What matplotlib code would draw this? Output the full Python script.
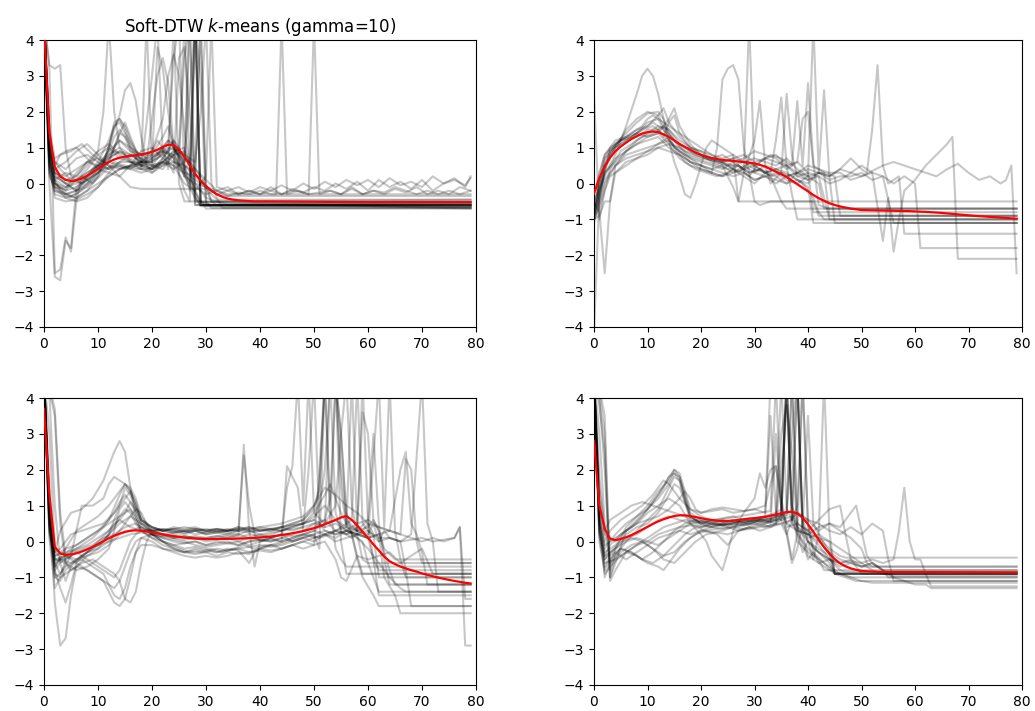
import matplotlib
matplotlib.use("Agg")
import matplotlib.pyplot as plt

# ---------------- barycenters (red) ----------------
bary1_x = list(range(0, 41)) + [50, 60, 70, 79]
bary1_y = [4.4, 1.4, 0.46, 0.2, 0.1, 0.07, 0.09, 0.14, 0.22, 0.31, 0.41, 0.51, 0.6, 0.67, 0.72,
           0.75, 0.77, 0.79, 0.81, 0.84, 0.88, 0.94, 1.02, 1.08, 1.07, 0.95, 0.75, 0.5, 0.27, 0.08,
           -0.07, -0.2, -0.3, -0.37, -0.42, -0.45, -0.47, -0.48, -0.49, -0.5, -0.5, -0.51, -0.52, -0.52, -0.52]

bary2_x = list(range(0, 49)) + [50, 53, 56, 59, 62, 65, 68, 71, 74, 77, 79]
bary2_y = [-0.28, 0.15, 0.48, 0.72, 0.9, 1.03, 1.14, 1.24, 1.32, 1.39, 1.43, 1.45, 1.43, 1.37, 1.3,
           1.2, 1.1, 1.02, 0.94, 0.86, 0.8, 0.75, 0.71, 0.68, 0.66, 0.64, 0.63, 0.61, 0.6, 0.58,
           0.56, 0.52, 0.47, 0.4, 0.33, 0.26, 0.18, 0.08, -0.02, -0.12, -0.22, -0.32, -0.41, -0.48,
           -0.55, -0.6, -0.64, -0.67, -0.7, -0.74, -0.75, -0.76, -0.77, -0.79, -0.82, -0.86, -0.9,
           -0.93, -0.96, -0.98]

bary3_x = list(range(0, 21)) + [22, 24, 26, 28, 30, 33, 36, 39, 42, 44, 46, 48, 50, 52, 54, 55, 56,
                                57, 58, 59, 60, 61, 62, 63, 64, 65, 66, 67, 68, 69, 70, 72, 74, 76, 78, 79]
bary3_y = [3.7, 1.3, -0.15, -0.33, -0.37, -0.36, -0.33, -0.28, -0.22, -0.15, -0.07, 0.01, 0.09, 0.16,
           0.22, 0.27, 0.3, 0.31, 0.3, 0.28, 0.25, 0.2, 0.15, 0.11, 0.08, 0.07, 0.07, 0.08, 0.1, 0.14,
           0.18, 0.23, 0.29, 0.37, 0.48, 0.6, 0.67, 0.71, 0.6, 0.45, 0.27, 0.1, -0.08, -0.25, -0.42,
           -0.55, -0.63, -0.7, -0.75, -0.8, -0.84, -0.89, -0.97, -1.04, -1.1, -1.15, -1.17]

bary4_x = list(range(0, 51)) + [52, 55, 79]
bary4_y = [2.8, 1.0, 0.35, 0.08, 0.04, 0.07, 0.12, 0.18, 0.25, 0.33, 0.41, 0.49, 0.56, 0.62, 0.67,
           0.71, 0.73, 0.73, 0.71, 0.68, 0.65, 0.62, 0.6, 0.58, 0.57, 0.57, 0.58, 0.6, 0.62, 0.64,
           0.65, 0.67, 0.69, 0.72, 0.75, 0.79, 0.82, 0.83, 0.78, 0.66, 0.48, 0.27, 0.05, -0.16, -0.34,
           -0.49, -0.61, -0.69, -0.75, -0.79, -0.82, -0.84, -0.85, -0.86]

# ---------------- cluster members (grey), vertices ----------------
cluster1 = [
    [(0,4.6),(1,1.5),(2,0.1),(3,-0.2),(5,-0.35),(7,-0.2),(9,0.1),(11,0.5),(12,1.0),(13,1.6),(14,1.8),(15,1.5),(16,1.0),(18,0.5),(20,0.6),(22,1.0),(23,1.2),(24,1.1),(25,0.7),(26,0.2),(27,4.5),(28,-0.6),(79,-0.6)],
    [(0,4.6),(1,0.8),(2,-0.1),(4,-0.3),(6,-0.4),(8,-0.2),(10,0.2),(12,0.6),(14,1.4),(15,1.7),(16,1.3),(18,0.6),(20,0.4),(22,0.7),(24,1.2),(25,1.0),(26,0.5),(28,0.3),(29,4.5),(30,-0.5),(31,-0.68),(79,-0.68)],
    [(0,4.6),(1,1.0),(2,0.5),(3,0.8),(5,0.9),(7,1.1),(9,0.8),(11,0.6),(13,1.5),(14,1.9),(15,2.6),(16,2.8),(17,2.3),(18,1.3),(19,0.5),(20,0.3),(22,0.6),(24,0.4),(26,0.6),(28,4.5),(29,-0.5),(30,-0.62),(79,-0.62)],
    [(0,4.6),(1,3.2),(2,-2.5),(3,-2.4),(4,-1.5),(5,-1.9),(6,-0.5),(7,0.2),(9,0.0),(11,0.3),(13,0.6),(15,0.5),(17,0.4),(19,0.4),(21,0.5),(23,0.6),(24,0.3),(25,3.5),(26,3.8),(27,2.0),(28,-0.3),(29,-0.6),(79,-0.65)],
    [(0,4.6),(1,0.0),(2,-2.6),(3,-2.7),(4,-1.6),(5,-1.8),(6,-0.1),(8,0.2),(10,0.5),(12,0.9),(14,1.2),(16,0.9),(18,0.8),(20,0.8),(22,1.3),(23,1.6),(24,1.0),(26,0.4),(27,-0.2),(28,5.0),(29,-0.6),(79,-0.55)],
    [(0,4.6),(1,3.3),(2,3.2),(3,3.3),(4,1.0),(5,0.2),(7,0.0),(9,0.2),(11,0.4),(13,0.5),(15,0.4),(17,0.5),(19,0.6),(21,3.0),(22,3.5),(23,2.8),(24,1.0),(26,0.5),(27,0.0),(29,-0.5),(31,-0.6),(79,-0.6)],
    [(0,4.6),(1,0.5),(2,0.1),(4,0.3),(6,0.2),(8,0.6),(10,0.9),(12,1.1),(14,0.8),(16,0.6),(18,0.6),(20,0.8),(22,0.9),(24,0.7),(26,0.2),(28,0.0),(30,-0.1),(32,-0.2),(34,-0.1),(36,-0.3),(38,-0.2),(40,-0.3),(42,-0.1),(44,-0.3),(46,-0.15),(48,-0.25),(50,-0.1),(52,-0.2),(54,0.0),(56,-0.15),(58,0.05),(60,-0.2),(62,0.1),(64,-0.1),(66,0.05),(68,-0.15),(70,0.1),(72,-0.2),(74,0.0),(76,0.15),(78,-0.1),(79,0.2)],
    [(0,4.6),(1,1.2),(2,0.6),(4,0.4),(6,0.7),(8,0.8),(10,0.6),(12,0.4),(14,0.5),(16,0.4),(18,0.6),(19,4.5),(20,0.5),(22,0.4),(24,0.8),(26,0.3),(28,-0.1),(30,-0.3),(32,-0.2),(34,-0.35),(36,-0.25),(38,-0.3),(40,-0.2),(42,-0.3),(43,-0.3),(44,4.5),(45,-0.3),(47,-0.2),(49,-0.3),(51,-0.25),(53,-0.2),(55,-0.3),(57,-0.15),(59,-0.3),(61,-0.2),(63,-0.3),(65,-0.15),(67,-0.25),(69,-0.1),(71,-0.3),(73,-0.2),(75,-0.3),(77,-0.1),(79,-0.2)],
    [(0,4.6),(1,0.9),(2,0.0),(4,-0.2),(6,0.1),(8,0.4),(10,0.8),(12,1.0),(14,0.7),(16,0.6),(18,0.4),(20,3.0),(21,4.5),(22,0.8),(24,0.6),(26,0.5),(28,0.2),(30,-0.1),(32,-0.3),(34,-0.2),(36,-0.3),(38,-0.2),(40,-0.3),(42,-0.2),(44,-0.3),(46,-0.2),(48,-0.25),(49,-0.3),(50,4.5),(51,-0.3),(53,-0.2),(55,-0.3),(57,-0.1),(59,-0.3),(61,-0.2),(63,-0.25),(65,-0.1),(67,-0.2),(69,-0.3),(71,-0.2),(73,-0.3),(75,-0.2),(77,-0.3),(79,-0.2)],
    [(0,4.6),(1,1.0),(2,0.2),(4,0.0),(6,-0.2),(8,0.0),(10,0.3),(12,0.7),(14,0.9),(16,0.7),(18,0.5),(20,0.5),(22,0.6),(24,0.9),(26,1.0),(27,0.5),(28,0.0),(30,-0.4),(32,-0.5),(34,-0.58),(79,-0.58)],
    [(0,4.6),(1,0.6),(2,-0.4),(4,-0.5),(6,-0.45),(8,-0.3),(10,-0.1),(12,0.2),(14,0.4),(16,0.5),(18,0.4),(20,0.3),(22,0.5),(24,0.8),(25,1.0),(26,3.5),(27,4.5),(28,-0.5),(79,-0.7)],
    [(0,4.6),(1,1.3),(2,0.3),(4,0.0),(6,-0.2),(8,-0.1),(10,0.2),(12,1.0),(13,1.7),(14,1.8),(15,1.6),(16,1.2),(18,0.6),(20,0.5),(22,0.9),(23,1.1),(24,3.5),(25,4.5),(26,0.2),(28,-0.4),(29,-0.63),(79,-0.63)],
    [(0,4.6),(1,0.9),(2,0.4),(4,0.6),(6,0.9),(8,1.1),(10,0.8),(12,0.5),(14,0.4),(16,0.5),(18,0.6),(20,0.6),(21,3.8),(22,3.2),(23,2.0),(24,1.0),(25,0.5),(27,0.0),(28,4.5),(29,-0.6),(79,-0.55)],
    [(0,4.6),(1,0.7),(2,0.1),(4,-0.1),(6,0.1),(8,0.3),(10,0.5),(12,0.6),(14,0.5),(16,0.4),(18,0.3),(20,0.4),(22,0.6),(24,0.5),(26,0.3),(28,0.2),(29,4.5),(30,0.0),(31,-0.5),(79,-0.45)],
    [(0,4.6),(1,1.1),(2,0.3),(4,0.1),(6,0.2),(8,0.5),(10,0.9),(11,2.0),(12,4.5),(13,2.0),(14,1.0),(16,0.6),(18,0.5),(20,0.4),(22,0.5),(24,0.6),(26,0.4),(27,0.2),(30,-0.1),(32,-0.3),(34,-0.35),(79,-0.35)],
    [(0,4.6),(1,0.4),(2,-0.3),(4,-0.4),(6,-0.3),(8,0.0),(10,0.4),(12,0.8),(14,1.2),(16,1.0),(18,0.8),(20,0.9),(22,1.8),(23,3.0),(24,3.6),(25,3.0),(26,1.5),(27,0.5),(28,-0.6),(79,-0.66)],
    [(0,4.6),(1,0.8),(2,0.0),(4,-0.3),(6,-0.2),(8,0.2),(10,0.6),(12,1.2),(13,1.6),(14,1.7),(15,1.4),(17,0.9),(19,0.7),(21,0.8),(23,1.2),(24,1.0),(26,0.6),(27,5.0),(28,5.0),(29,-0.6),(79,-0.6)],
    [(0,4.6),(1,1.2),(2,0.6),(3,0.4),(5,0.1),(7,0.0),(9,0.3),(11,0.6),(13,0.9),(15,0.8),(17,0.5),(19,0.4),(21,0.5),(23,0.9),(24,1.2),(25,0.9),(26,0.4),(27,0.6),(28,4.5),(29,3.0),(30,-0.6),(79,-0.6)],
    [(0,4.6),(1,0.5),(2,-0.1),(4,-0.4),(6,-0.5),(8,-0.4),(10,-0.1),(12,0.3),(14,0.6),(16,0.6),(18,0.5),(20,0.7),(22,1.0),(24,0.7),(25,0.3),(26,-0.2),(27,-0.5),(28,4.5),(29,-0.52),(79,-0.52)],
    [(0,4.6),(1,0.2),(2,-0.1),(4,-0.15),(6,0.3),(8,0.6),(10,0.7),(12,0.5),(14,0.2),(16,-0.1),(18,-0.15),(30,-0.15),(31,-0.5),(32,-0.6),(79,-0.6)],
    [(0,4.6),(1,1.5),(2,0.7),(4,0.9),(6,1.0),(8,0.7),(10,0.4),(12,0.3),(14,0.2),(16,0.5),(18,0.9),(20,1.0),(22,0.7),(24,0.5),(26,0.0),(28,-0.2),(30,0.2),(31,4.5),(32,-0.1),(34,-0.2),(36,-0.1),(38,-0.25),(40,-0.1),(42,-0.2),(44,-0.05),(46,-0.2),(48,0.0),(50,-0.15),(52,0.05),(54,-0.1),(56,0.1),(58,-0.05),(60,0.1),(62,-0.1),(64,0.15),(66,-0.05),(68,0.05),(70,-0.1),(72,0.2),(74,0.0),(76,0.1),(78,-0.05),(79,0.15)],
    [(0,4.6),(1,1.0),(2,0.3),(4,0.2),(6,0.4),(8,0.6),(10,0.5),(12,0.4),(14,0.6),(16,0.8),(18,0.7),(20,0.5),(22,0.6),(24,0.9),(26,0.7),(28,0.4),(30,0.1),(32,-0.2),(34,-0.3),(79,-0.3)],
    [(0,4.6),(1,0.6),(2,0.0),(4,-0.2),(6,-0.1),(8,0.1),(10,0.3),(12,0.6),(13,1.0),(14,1.4),(15,1.3),(16,0.9),(18,0.5),(20,0.4),(22,0.6),(24,0.8),(26,0.9),(27,0.5),(28,-0.4),(29,-0.6),(79,-0.6)],
    [(0,4.6),(1,0.3),(2,-0.2),(4,-0.35),(6,-0.4),(8,-0.2),(10,0.0),(12,0.2),(14,0.4),(16,0.5),(18,0.6),(20,0.9),(21,1.2),(22,1.0),(23,0.4),(24,4.5),(25,0.0),(26,-0.5),(79,-0.5)],
    [(0,4.6),(1,0.9),(2,0.2),(4,0.0),(6,0.1),(8,0.3),(10,0.5),(12,0.8),(14,1.0),(16,0.8),(18,0.6),(20,0.7),(22,0.9),(24,0.8),(25,0.5),(26,4.5),(27,0.3),(28,-0.2),(29,-0.5),(30,-0.7),(79,-0.7)],
    [(0,4.6),(1,0.4),(2,-0.2),(4,-0.3),(6,-0.2),(8,0.1),(10,0.4),(12,0.7),(14,0.9),(16,0.8),(18,0.6),(20,0.6),(22,0.8),(24,1.0),(26,0.8),(28,0.6),(29,2.0),(30,4.5),(31,0.0),(32,-0.4),(33,-0.68),(79,-0.68)],
    [(0,4.6),(1,0.7),(2,0.0),(4,-0.1),(6,0.0),(8,0.2),(10,0.5),(12,0.9),(13,1.3),(14,1.5),(15,1.3),(17,0.8),(19,0.6),(21,0.7),(23,1.0),(25,0.9),(27,0.6),(28,0.4),(29,0.2),(30,-0.1),(31,-0.3),(32,-0.45),(79,-0.45)],
]

cluster2 = [
    [(0,-1.0),(1,0.0),(2,0.6),(3,1.0),(5,1.2),(7,1.4),(9,1.6),(10,1.8),(11,1.9),(12,1.8),(13,1.5),(15,1.0),(17,0.8),(19,0.7),(21,0.6),(23,0.5),(25,0.4),(27,0.5),(29,0.3),(31,0.4),(33,0.2),(35,-0.5),(36,-0.7),(79,-0.7)],
    [(0,-0.8),(1,-0.3),(2,0.4),(3,0.9),(5,1.2),(7,1.3),(9,1.5),(11,1.6),(12,1.5),(13,1.3),(14,1.7),(15,1.9),(16,1.4),(18,1.0),(20,0.9),(22,0.7),(24,0.6),(26,0.7),(28,0.8),(30,0.6),(32,0.7),(34,0.8),(36,0.5),(38,0.2),(40,0.1),(42,0.3),(43,0.3),(44,-0.9),(79,-0.9)],
    [(0,-0.5),(2,0.2),(4,0.8),(6,1.6),(8,2.5),(9,3.0),(10,3.2),(11,3.0),(12,2.5),(13,1.8),(14,1.2),(15,0.6),(16,0.2),(17,-0.3),(18,-0.4),(19,0.0),(20,0.5),(21,1.0),(22,1.2),(24,1.0),(26,0.8),(27,-0.5),(41,-0.5),(42,-0.9),(79,-0.9)],
    [(0,-0.9),(1,-0.4),(2,0.3),(4,0.7),(6,0.9),(8,1.1),(10,1.3),(12,1.4),(14,1.1),(16,0.7),(18,0.5),(20,0.4),(22,0.3),(23,1.0),(24,2.9),(25,3.2),(26,3.3),(27,2.9),(28,1.0),(29,0.3),(30,-0.5),(31,-0.6),(33,-0.5),(79,-0.5)],
    [(0,-0.7),(1,0.0),(2,0.5),(4,1.0),(6,1.2),(8,1.3),(10,1.5),(12,1.5),(14,1.2),(16,0.9),(18,0.7),(20,0.6),(22,0.5),(24,0.4),(26,0.6),(28,0.4),(30,0.5),(32,0.3),(34,0.4),(36,0.2),(38,0.3),(40,0.1),(42,0.2),(44,0.0),(46,0.1),(48,0.3),(50,0.5),(52,0.3),(54,-1.6),(55,-0.4),(56,-1.9),(57,-1.0),(58,-0.2),(60,0.1),(62,0.5),(64,0.8),(66,1.1),(67,1.3),(68,-2.1),(79,-2.1)],
    [(0,-0.9),(1,-0.2),(2,0.3),(4,0.6),(6,0.9),(8,1.1),(10,1.2),(12,1.3),(14,1.0),(16,0.8),(18,0.6),(20,0.5),(22,0.4),(24,0.5),(26,0.3),(28,0.4),(29,4.5),(30,0.3),(32,0.5),(34,0.4),(36,0.3),(38,0.1),(40,0.0),(42,0.3),(44,0.2),(46,0.4),(48,0.3),(50,0.2),(52,0.35),(54,0.5),(56,0.6),(58,0.5),(60,0.4),(62,0.3),(64,0.2),(66,0.4),(68,0.55),(70,0.3),(72,0.1),(74,0.2),(76,0.0),(77,0.1),(78,0.5),(79,-2.5)],
    [(0,-1.0),(1,-0.6),(2,0.0),(4,0.5),(6,0.8),(8,0.9),(10,1.0),(12,1.1),(14,1.2),(16,0.9),(18,0.6),(20,0.5),(22,0.3),(24,0.2),(26,0.4),(28,0.3),(30,0.1),(32,0.2),(34,0.0),(36,0.2),(38,0.3),(40,0.4),(42,0.3),(44,0.2),(46,0.4),(48,0.7),(50,0.4),(51,0.3),(52,1.5),(53,3.3),(54,0.5),(55,0.0),(57,0.2),(58,-1.4),(79,-1.4)],
    [(0,-1.1),(1,-0.4),(2,0.4),(4,1.0),(6,1.5),(8,1.8),(10,2.0),(12,1.9),(13,1.6),(15,1.2),(17,1.0),(19,0.8),(21,0.7),(23,0.6),(25,0.5),(27,0.3),(29,0.6),(31,0.4),(33,0.2),(35,0.3),(37,0.2),(39,0.0),(41,-0.4),(42,-0.8),(43,-1.0),(79,-1.0)],
    [(0,-0.8),(1,-0.2),(2,0.5),(4,1.1),(6,1.4),(8,1.7),(10,1.95),(12,2.0),(13,1.8),(14,1.4),(16,1.0),(18,0.8),(20,0.7),(22,0.65),(24,0.6),(26,0.7),(28,0.6),(30,0.5),(32,0.7),(34,0.6),(36,0.5),(38,0.6),(40,0.3),(41,-0.8),(79,-0.8)],
    [(0,-0.3),(1,0.3),(2,0.8),(4,1.1),(6,1.3),(8,1.4),(10,1.3),(12,1.4),(14,1.8),(15,2.1),(16,1.6),(18,1.1),(20,0.8),(22,0.6),(24,0.5),(26,-0.1),(27,-0.5),(28,0.3),(30,1.2),(31,2.3),(32,0.5),(33,0.0),(35,0.3),(36,2.5),(37,0.8),(38,0.2),(40,0.3),(42,0.2),(44,-1.0),(79,-1.0)],
    [(0,-1.0),(1,-0.7),(2,-0.2),(3,0.2),(5,0.4),(7,0.6),(9,0.8),(11,1.0),(13,1.2),(14,1.3),(15,1.0),(17,0.6),(19,0.4),(21,0.3),(23,0.2),(25,0.3),(27,0.5),(29,0.2),(31,0.6),(33,0.8),(35,0.7),(37,0.5),(38,2.3),(39,0.5),(40,2.8),(41,0.6),(42,-0.6),(44,-0.7),(79,-0.7)],
    [(0,-0.5),(1,-0.8),(2,-2.5),(3,-0.5),(4,0.5),(6,0.9),(8,1.2),(10,1.4),(12,1.6),(14,1.5),(16,1.2),(18,1.0),(20,0.9),(22,0.8),(24,0.6),(26,0.5),(28,0.6),(30,0.4),(32,0.3),(34,0.4),(36,0.5),(38,0.3),(40,0.2),(41,4.5),(42,0.3),(43,2.6),(44,0.2),(45,-1.1),(79,-1.1)],
    [(0,-4.2),(1,-0.3),(2,0.3),(3,0.9),(5,1.2),(7,1.3),(9,1.5),(11,1.7),(13,1.5),(15,1.2),(17,0.9),(19,0.8),(21,0.7),(23,0.6),(25,0.5),(27,0.5),(29,0.3),(31,0.4),(33,0.3),(34,1.2),(35,2.4),(36,0.5),(37,-0.3),(38,-1.0),(79,-1.0)],
    [(0,2.5),(1,-1.0),(2,-0.2),(3,0.4),(5,0.9),(7,1.1),(9,1.3),(11,1.4),(13,1.6),(14,1.5),(16,1.1),(18,0.9),(20,0.8),(22,0.7),(24,0.8),(26,0.6),(28,0.7),(30,0.9),(32,0.8),(34,0.7),(36,0.4),(38,0.6),(39,1.8),(40,2.0),(41,0.5),(43,0.3),(45,0.2),(46,-0.9),(79,-0.9)],
    [(0,-0.9),(1,-0.5),(2,0.1),(4,0.5),(6,0.7),(8,0.8),(10,0.9),(12,1.0),(14,0.9),(16,0.8),(18,0.6),(20,0.4),(22,0.3),(24,0.2),(26,0.3),(28,0.5),(30,0.3),(32,0.2),(34,0.3),(36,0.1),(38,0.0),(40,0.2),(42,0.3),(44,0.1),(46,0.2),(48,0.2),(50,0.3),(52,0.1),(54,0.2),(56,-1.1),(79,-1.1)],
    [(0,-0.7),(1,0.2),(2,0.8),(4,1.2),(6,1.3),(8,1.5),(10,1.6),(12,1.9),(13,2.1),(14,1.7),(16,1.3),(18,1.0),(20,0.8),(22,0.7),(24,0.6),(26,0.4),(28,0.2),(30,0.0),(32,0.3),(34,0.2),(36,0.0),(38,0.3),(40,0.5),(42,0.4),(44,0.3),(46,0.3),(48,0.1),(50,0.2),(52,0.3),(54,0.2),(56,0.0),(58,0.2),(60,0.0),(61,-1.8),(79,-1.8)],
    [(0,-1.0),(1,-0.9),(2,-0.5),(3,-0.5),(4,0.3),(6,0.6),(8,0.7),(10,0.8),(12,1.0),(14,1.1),(16,1.0),(18,0.7),(20,0.5),(22,0.4),(24,0.3),(26,0.2),(28,0.3),(30,0.1),(32,0.2),(34,0.1),(36,0.0),(38,0.1),(40,-0.1),(41,-1.1),(79,-1.1)],
    [(0,-0.8),(1,0.0),(2,0.7),(4,1.0),(6,1.2),(8,1.4),(10,1.7),(12,1.8),(14,1.6),(16,1.4),(18,1.2),(20,1.0),(22,0.8),(24,0.7),(26,0.8),(28,0.6),(30,0.7),(32,0.6),(34,0.5),(36,0.7),(38,0.4),(40,0.2),(42,0.0),(43,-0.7),(79,-0.7)],
]

cluster3 = [
    [(0,4.6),(1,0.5),(2,-0.7),(3,-0.5),(5,-0.3),(7,-0.1),(9,0.1),(11,0.4),(13,0.8),(14,1.0),(15,1.2),(16,1.4),(17,1.1),(18,0.6),(20,0.4),(22,0.3),(24,0.35),(26,0.3),(28,0.3),(30,0.35),(32,0.3),(34,0.3),(36,0.35),(38,0.3),(40,0.3),(42,0.35),(44,0.3),(46,0.4),(48,0.5),(50,0.8),(52,1.3),(53,1.6),(54,1.2),(55,0.8),(56,0.5),(58,0.3),(60,0.4),(61,0.6),(62,0.3),(63,-0.3),(64,-0.8),(65,-1.2),(79,-1.2)],
    [(0,4.6),(1,4.2),(2,3.5),(3,0.5),(4,-0.6),(5,-0.8),(7,-0.6),(9,-0.5),(11,-0.7),(13,-0.9),(14,-1.1),(15,-1.6),(16,-1.7),(17,-1.4),(18,-0.6),(19,0.0),(20,0.3),(22,0.35),(24,0.3),(26,0.25),(28,0.3),(30,0.2),(32,0.25),(34,0.3),(36,0.3),(38,0.4),(40,0.3),(42,0.35),(44,0.4),(46,0.45),(48,0.5),(50,0.6),(51,1.0),(52,2.0),(53,4.5),(54,4.5),(55,2.0),(56,0.5),(57,0.2),(59,0.0),(60,-0.6),(61,-1.0),(62,-1.4),(79,-1.4)],
    [(0,4.6),(1,1.5),(2,-1.0),(3,-1.1),(4,-0.8),(6,-0.5),(8,-0.4),(10,-0.2),(12,0.2),(13,0.6),(14,1.0),(15,1.5),(16,1.3),(17,0.9),(18,0.5),(20,0.2),(22,0.15),(24,0.2),(26,0.1),(28,0.15),(30,0.1),(32,0.15),(34,0.2),(36,0.15),(37,2.7),(38,0.3),(39,-0.7),(40,0.0),(42,0.1),(44,0.2),(46,0.0),(48,0.1),(50,0.2),(51,-0.2),(52,4.5),(53,0.5),(54,4.5),(55,0.0),(56,-0.9),(79,-0.9)],
    [(0,4.6),(1,0.6),(2,-0.8),(3,-1.3),(4,-1.7),(5,-1.2),(6,-0.6),(8,-0.3),(10,0.0),(12,0.3),(13,0.5),(14,0.6),(16,0.4),(18,0.3),(20,0.1),(22,0.0),(24,-0.1),(26,-0.05),(28,0.0),(30,-0.1),(32,0.0),(34,-0.05),(36,0.0),(38,-0.1),(40,0.0),(42,0.05),(44,0.0),(46,0.1),(48,0.2),(50,0.3),(52,0.5),(54,1.0),(55,3.0),(56,4.5),(57,1.0),(58,0.2),(59,-0.5),(60,-0.6),(79,-0.6)],
    [(0,4.6),(1,1.0),(2,-1.7),(3,-2.9),(4,-2.7),(5,-1.5),(6,-0.7),(8,-0.4),(10,-0.3),(12,-0.1),(14,0.2),(16,0.3),(18,0.4),(20,0.3),(22,0.2),(24,0.25),(26,0.2),(28,0.3),(30,0.2),(32,0.25),(34,0.2),(36,0.3),(37,2.4),(38,1.0),(39,0.2),(40,0.0),(42,0.1),(44,0.2),(46,0.15),(48,0.2),(50,0.3),(52,0.2),(54,0.3),(56,0.2),(58,0.3),(59,4.5),(60,0.5),(61,-0.5),(62,-0.8),(79,-0.8)],
    [(0,4.6),(1,0.8),(2,-0.3),(3,0.3),(5,0.8),(7,0.9),(9,1.2),(11,1.7),(13,2.5),(14,2.8),(15,2.5),(16,1.5),(17,0.7),(18,0.3),(20,0.1),(22,-0.1),(24,-0.2),(26,-0.3),(28,-0.25),(30,-0.3),(32,-0.2),(34,-0.25),(36,-0.2),(38,-0.3),(40,-0.2),(42,-0.1),(44,-0.2),(46,-0.1),(48,0.0),(50,-0.1),(51,2.0),(52,4.5),(53,1.0),(54,-0.2),(55,-0.5),(56,-0.7),(79,-0.7)],
    [(0,4.6),(1,4.3),(2,3.7),(3,0.8),(4,-0.4),(5,-0.5),(7,-0.7),(9,-0.9),(11,-1.1),(12,-1.4),(13,-1.7),(14,-1.8),(15,-1.6),(16,-1.0),(17,-0.3),(18,0.1),(20,0.2),(22,0.0),(24,-0.2),(26,-0.3),(28,-0.35),(30,-0.3),(32,-0.4),(34,-0.3),(36,-0.35),(38,-0.3),(40,-0.25),(42,-0.3),(44,-0.2),(46,-0.1),(48,0.0),(50,0.1),(52,0.2),(54,0.3),(56,0.4),(57,4.5),(58,0.3),(60,0.1),(61,-0.5),(62,-1.5),(79,-1.5)],
    [(0,4.6),(1,0.3),(2,-0.4),(4,-0.2),(6,-0.1),(8,0.1),(10,0.3),(12,0.6),(14,1.3),(15,1.6),(16,1.5),(17,1.2),(18,0.7),(20,0.3),(22,0.2),(24,0.1),(26,0.15),(28,0.1),(30,0.05),(32,0.1),(34,0.15),(36,0.1),(38,0.2),(40,0.15),(42,0.2),(44,0.3),(46,0.35),(48,0.4),(50,0.5),(52,0.4),(53,4.5),(54,0.8),(55,0.3),(57,0.1),(59,0.3),(60,0.5),(61,0.2),(62,-1.0),(79,-1.0)],
    [(0,4.6),(1,0.4),(2,-0.6),(3,-0.9),(4,-0.7),(6,-0.5),(8,-0.3),(10,-0.2),(12,0.0),(14,0.3),(16,0.7),(17,0.9),(18,0.8),(19,0.5),(20,0.2),(22,0.0),(24,-0.1),(26,-0.2),(28,-0.15),(30,-0.2),(32,-0.3),(34,-0.2),(36,-0.25),(38,-0.6),(39,-0.3),(40,-0.2),(42,-0.1),(44,0.0),(46,0.1),(48,0.2),(50,0.1),(52,0.2),(54,0.0),(56,0.1),(58,0.2),(60,0.3),(62,0.1),(64,0.1),(66,0.0),(68,0.05),(70,0.1),(72,0.0),(74,0.05),(76,0.1),(77,0.4),(78,-1.6),(79,-1.6)],
    [(0,4.6),(1,0.9),(2,-0.5),(4,-0.6),(6,-0.8),(8,-0.7),(10,-0.5),(12,-0.2),(13,0.3),(14,0.9),(15,1.1),(16,0.9),(17,0.6),(18,0.3),(20,0.3),(22,0.35),(24,0.3),(26,0.25),(28,0.3),(30,0.25),(32,0.3),(34,0.35),(36,0.3),(38,0.35),(40,0.4),(42,0.35),(44,0.4),(46,0.5),(48,0.6),(50,0.9),(51,1.5),(52,4.5),(53,4.5),(54,4.5),(55,3.0),(56,0.6),(58,0.3),(60,0.6),(61,3.0),(62,0.5),(63,-0.5),(64,-1.2),(79,-1.2)],
    [(0,4.6),(1,0.2),(2,-1.0),(3,-0.9),(5,-0.4),(7,1.0),(9,1.0),(11,1.2),(12,1.6),(13,1.8),(14,1.7),(15,1.6),(16,1.4),(17,1.0),(18,0.6),(20,0.4),(22,0.3),(24,0.4),(26,0.35),(28,0.4),(30,0.3),(32,0.35),(34,0.3),(36,0.4),(38,0.3),(40,0.35),(42,0.3),(44,0.4),(46,0.3),(48,0.4),(49,2.0),(50,4.5),(51,0.5),(52,0.3),(54,0.2),(56,0.3),(58,0.2),(60,0.1),(62,0.2),(64,0.3),(66,0.2),(67,2.3),(68,2.0),(69,0.0),(70,-0.6),(79,-0.6)],
    [(0,4.6),(1,3.0),(2,-0.2),(3,-0.5),(5,-0.6),(7,-0.5),(9,-0.7),(11,-0.9),(12,-1.2),(13,-1.3),(14,-1.1),(15,-0.7),(16,-0.3),(17,0.0),(18,0.1),(20,0.0),(22,-0.2),(24,-0.3),(26,-0.4),(28,-0.45),(30,-0.4),(32,-0.45),(34,-0.4),(36,-0.3),(38,-0.35),(40,-0.2),(42,-0.25),(44,-0.2),(46,-0.1),(48,-0.2),(50,-0.1),(52,0.0),(54,-0.5),(55,-1.0),(56,-1.1),(58,-0.4),(60,-0.5),(62,-0.4),(64,-0.3),(66,-0.6),(68,-0.4),(70,-0.2),(72,-0.9),(79,-0.9)],
    [(0,4.6),(1,0.7),(2,-0.4),(4,-0.3),(6,-0.2),(8,-0.1),(10,0.1),(12,0.3),(14,0.6),(15,0.8),(16,0.9),(17,0.7),(18,0.4),(20,0.2),(22,0.15),(24,0.1),(26,0.05),(28,0.1),(30,0.0),(32,0.05),(34,0.1),(36,0.0),(38,0.1),(40,0.05),(42,0.1),(44,0.0),(45,2.1),(46,1.8),(47,1.5),(48,0.3),(50,0.5),(52,0.6),(54,0.3),(56,0.2),(58,0.4),(59,3.6),(60,3.0),(61,0.6),(62,0.3),(63,-0.2),(65,-0.5),(66,-0.5),(79,-0.5)],
    [(0,4.6),(1,0.5),(2,-0.8),(3,-0.6),(5,-0.3),(7,-0.2),(9,-0.1),(11,0.1),(13,0.2),(15,0.4),(17,0.5),(19,0.3),(21,0.1),(23,-0.1),(25,-0.2),(27,-0.3),(29,-0.3),(31,-0.2),(33,-0.3),(35,-0.2),(37,-0.1),(39,-0.2),(41,-0.1),(43,-0.1),(45,0.0),(47,0.1),(49,0.2),(51,0.1),(53,0.2),(55,0.4),(57,0.6),(58,4.5),(59,0.5),(60,0.3),(62,0.0),(63,0.3),(64,0.1),(66,0.0),(67,-0.8),(68,-1.8),(79,-1.8)],
    [(0,4.6),(1,0.1),(2,-1.3),(3,-1.0),(4,-0.5),(6,-0.3),(8,-0.5),(10,-0.7),(12,-0.9),(13,-1.0),(14,-0.8),(15,-0.4),(16,0.0),(17,0.2),(18,0.3),(20,0.35),(22,0.3),(24,0.25),(26,0.3),(28,0.2),(30,0.25),(32,0.3),(34,0.25),(36,0.2),(38,0.3),(40,0.2),(42,0.25),(44,0.3),(46,0.4),(48,0.5),(50,0.7),(52,1.0),(54,0.6),(56,0.4),(58,0.3),(60,0.2),(61,0.5),(62,0.0),(64,0.1),(66,0.0),(68,0.2),(70,4.5),(71,0.5),(72,0.0),(73,-1.4),(79,-1.4)],
    [(0,4.6),(1,4.1),(2,1.0),(3,-0.6),(4,-1.1),(5,-0.7),(7,-0.4),(9,-0.2),(11,0.0),(13,0.4),(14,0.7),(15,0.9),(16,0.8),(17,0.5),(18,0.3),(20,0.3),(22,0.3),(24,0.25),(26,0.3),(28,0.35),(30,0.3),(32,0.25),(34,0.3),(36,0.3),(38,0.25),(40,0.3),(42,0.3),(44,0.4),(46,0.5),(48,0.6),(50,1.0),(51,1.4),(52,4.5),(53,4.5),(54,4.5),(55,3.0),(56,0.8),(57,0.2),(58,-0.4),(59,-0.9),(79,-0.9)],
    [(0,4.6),(1,0.6),(2,-0.9),(3,-1.0),(4,-0.9),(6,-0.7),(8,-0.8),(10,-1.0),(12,-1.2),(13,-1.5),(14,-1.6),(15,-1.3),(16,-0.7),(17,-0.3),(18,-0.1),(20,-0.1),(22,-0.2),(24,-0.25),(26,-0.3),(28,-0.2),(30,-0.25),(32,-0.3),(34,-0.25),(36,-0.2),(38,-0.15),(40,-0.1),(42,-0.15),(44,-0.1),(46,0.0),(48,0.1),(50,0.2),(52,0.3),(54,0.2),(56,0.3),(58,0.2),(60,0.1),(62,0.2),(63,-1.0),(65,-1.5),(66,-2.0),(79,-2.0)],
    [(0,4.6),(1,0.6),(2,-0.3),(3,-0.2),(5,0.2),(7,0.3),(9,0.4),(11,0.5),(13,0.8),(14,1.1),(15,1.3),(16,1.1),(17,0.8),(18,0.5),(20,0.4),(22,0.3),(24,0.35),(26,0.3),(28,0.35),(30,0.3),(32,0.35),(34,0.3),(36,0.35),(38,0.4),(40,0.3),(42,0.35),(44,0.3),(46,0.45),(48,0.5),(50,0.6),(52,0.4),(54,0.5),(56,0.3),(58,0.5),(60,0.6),(62,0.4),(64,0.3),(66,0.2),(68,0.1),(70,0.0),(72,0.1),(74,0.0),(76,0.1),(77,0.4),(78,-2.9),(79,-2.9)],
    [(0,4.6),(1,1.2),(2,-0.5),(4,-0.5),(6,-0.3),(8,-0.2),(10,-0.1),(12,0.0),(14,0.1),(16,0.2),(18,0.25),(20,0.2),(22,0.1),(24,0.05),(26,0.0),(28,-0.1),(30,-0.15),(32,-0.1),(34,-0.05),(36,-0.1),(38,0.0),(40,0.05),(42,0.0),(44,0.1),(46,0.2),(48,0.3),(50,0.4),(52,0.6),(53,1.2),(54,4.5),(55,1.5),(56,0.4),(58,0.1),(60,-0.2),(62,-0.6),(64,-1.0),(66,-1.3),(67,-1.4),(79,-1.4)],
    [(0,4.6),(1,0.3),(2,-0.7),(4,-0.2),(6,0.3),(8,0.5),(10,0.7),(12,1.0),(14,1.4),(15,1.6),(16,1.4),(17,1.0),(18,0.6),(20,0.2),(22,0.1),(24,0.0),(26,-0.05),(28,0.0),(30,-0.1),(32,-0.05),(34,0.0),(36,-0.1),(38,0.0),(40,0.05),(42,0.0),(44,0.1),(46,0.0),(48,0.1),(50,0.0),(52,0.2),(54,0.1),(56,0.3),(57,0.2),(58,-0.5),(59,-1.0),(61,-1.5),(62,-1.8),(79,-1.8)],
    [(0,4.6),(1,0.5),(2,-0.5),(4,-0.4),(6,-0.5),(8,-0.3),(10,-0.1),(12,0.2),(14,0.5),(16,0.7),(18,0.5),(20,0.3),(22,0.2),(24,0.1),(26,0.15),(28,0.1),(30,0.1),(32,0.15),(34,0.1),(36,0.2),(38,0.1),(40,0.2),(42,0.1),(44,0.2),(45,1.5),(46,2.1),(47,4.5),(48,1.0),(49,4.5),(50,0.8),(52,0.5),(54,0.6),(56,0.3),(58,0.2),(60,0.1),(62,4.5),(63,0.4),(64,4.5),(65,0.3),(66,-0.5),(67,-1.0),(79,-1.0)],
    [(0,4.6),(1,1.0),(2,-0.6),(3,-0.5),(5,-0.2),(7,0.0),(9,0.2),(11,0.4),(13,0.6),(15,0.8),(16,1.1),(17,0.9),(18,0.6),(20,0.4),(22,0.3),(24,0.35),(26,0.4),(28,0.35),(30,0.3),(32,0.35),(34,0.3),(36,0.4),(38,0.35),(40,0.4),(42,0.45),(44,0.5),(46,0.6),(48,0.7),(50,1.0),(52,1.5),(54,1.3),(56,1.0),(58,0.8),(60,0.5),(62,0.4),(64,0.3),(66,2.0),(67,2.5),(68,0.5),(69,0.2),(70,-0.3),(71,-1.2),(79,-1.2)],
]

cluster4 = [
    [(0,4.6),(1,0.5),(2,-0.4),(3,-0.1),(5,0.2),(7,0.4),(9,0.7),(11,1.1),(13,1.5),(14,1.8),(15,2.0),(16,1.8),(17,1.3),(18,0.8),(20,0.6),(22,0.55),(24,0.5),(26,0.6),(28,0.55),(30,0.6),(32,0.7),(33,3.5),(34,0.8),(35,0.6),(36,4.5),(37,0.5),(38,0.3),(40,0.2),(42,0.0),(44,-0.3),(45,-0.9),(79,-0.9)],
    [(0,4.6),(1,4.3),(2,3.5),(3,-1.0),(4,-0.6),(6,0.3),(8,0.6),(10,0.9),(12,1.3),(14,1.8),(15,1.9),(16,1.7),(17,1.2),(18,0.7),(20,0.5),(22,0.5),(24,0.45),(26,0.5),(28,0.55),(30,0.6),(32,0.65),(34,0.7),(35,4.5),(36,4.5),(37,0.8),(38,0.4),(40,0.2),(42,0.1),(44,0.0),(45,-0.9),(79,-0.9)],
    [(0,4.6),(1,3.8),(2,2.5),(3,-1.1),(4,-0.8),(6,-0.3),(8,-0.1),(10,0.0),(12,0.2),(14,0.3),(16,0.4),(18,0.45),(20,0.4),(22,0.45),(24,0.5),(26,0.55),(28,0.5),(30,0.6),(32,0.5),(34,0.7),(36,0.8),(37,4.5),(38,4.5),(39,0.6),(40,0.2),(42,-0.1),(44,-0.5),(46,-0.8),(47,-0.85),(79,-0.85)],
    [(0,4.6),(1,0.2),(2,-0.6),(4,-0.5),(6,-0.3),(8,-0.4),(10,-0.6),(12,-0.7),(13,-0.8),(14,-0.6),(16,-0.2),(18,0.1),(20,0.3),(22,0.4),(24,0.35),(26,0.4),(28,0.45),(30,0.5),(32,0.4),(34,0.5),(35,2.0),(36,3.8),(37,1.0),(38,0.0),(40,-0.3),(42,-0.5),(44,-0.7),(46,-0.9),(48,-1.0),(79,-1.0)],
    [(0,4.6),(1,1.2),(2,0.0),(3,0.3),(5,0.6),(7,0.8),(9,1.0),(11,1.3),(12,1.5),(13,1.7),(14,1.6),(16,1.2),(18,0.9),(20,0.8),(22,0.85),(24,0.9),(26,0.8),(28,0.85),(30,0.9),(32,0.8),(33,4.5),(34,4.5),(35,0.8),(36,0.5),(38,0.3),(40,0.2),(42,0.4),(44,0.5),(46,0.3),(48,0.1),(50,-0.2),(51,-0.6),(52,-0.7),(79,-0.7)],
    [(0,4.6),(1,0.8),(2,-0.2),(4,0.2),(6,0.5),(8,0.7),(10,1.0),(12,1.4),(14,1.7),(15,2.0),(16,1.9),(17,1.4),(18,0.9),(20,0.7),(22,0.6),(24,0.55),(26,0.6),(28,0.55),(30,0.6),(32,0.65),(34,0.6),(36,0.7),(37,3.0),(38,4.5),(39,0.5),(40,0.0),(42,-0.3),(44,-0.6),(45,-0.9),(79,-0.9)],
    [(0,4.6),(1,0.4),(2,-0.7),(3,-0.4),(5,-0.2),(7,-0.3),(9,-0.5),(11,-0.6),(13,-0.4),(15,-0.1),(17,0.2),(19,0.4),(21,0.3),(23,0.2),(25,-0.1),(27,0.3),(29,0.4),(31,0.5),(33,0.4),(35,0.6),(36,0.3),(37,-0.5),(38,0.2),(39,4.5),(40,0.4),(41,-0.3),(43,-0.6),(45,-0.9),(47,-1.0),(49,-1.1),(79,-1.1)],
    [(0,4.6),(1,1.5),(2,0.2),(4,0.0),(6,0.3),(8,0.5),(10,0.8),(12,1.0),(14,1.2),(16,1.0),(18,0.5),(20,0.2),(21,0.0),(22,-0.4),(23,-0.6),(24,-0.8),(25,-0.3),(26,0.3),(28,0.8),(30,1.2),(31,1.9),(32,1.5),(33,2.0),(34,2.1),(35,1.2),(36,0.4),(38,0.5),(40,0.3),(42,0.6),(44,0.9),(46,1.0),(47,0.2),(48,-0.5),(50,-0.9),(79,-0.9)],
    [(0,4.6),(1,0.3),(2,-0.4),(4,-0.2),(6,0.0),(8,0.1),(10,0.0),(12,-0.1),(14,0.1),(16,0.3),(18,0.5),(20,0.55),(22,0.5),(24,0.45),(26,0.5),(28,0.6),(30,0.55),(32,0.6),(34,0.65),(35,0.7),(36,4.5),(37,4.5),(38,0.3),(39,-0.3),(40,0.0),(41,-0.5),(42,0.2),(44,-0.3),(46,-0.5),(48,-0.6),(50,-0.7),(79,-0.7)],
    [(0,4.6),(1,3.0),(2,0.5),(3,-0.6),(4,-0.2),(6,0.4),(8,0.7),(10,0.9),(12,1.2),(14,1.6),(15,1.9),(16,1.8),(17,1.2),(18,0.7),(20,0.5),(22,0.6),(24,0.65),(26,0.7),(28,0.6),(30,0.65),(32,0.7),(34,0.8),(35,0.9),(36,4.5),(37,0.6),(38,4.5),(39,0.4),(40,0.1),(42,0.2),(43,4.5),(44,0.3),(45,-0.9),(79,-0.9)],
    [(0,4.6),(1,0.0),(2,-0.8),(3,-0.5),(5,-0.2),(7,-0.3),(9,-0.5),(11,-0.3),(13,0.0),(15,0.3),(17,0.5),(19,0.6),(21,0.55),(23,0.5),(25,0.4),(27,0.3),(29,0.4),(31,0.3),(33,0.4),(35,0.5),(37,0.6),(38,4.5),(39,0.2),(40,-0.4),(42,-0.6),(44,-0.8),(46,-0.9),(48,-1.0),(50,-1.1),(52,-1.15),(79,-1.15)],
    [(0,4.6),(1,0.6),(2,-0.1),(4,0.1),(6,0.3),(8,0.5),(10,0.6),(12,0.7),(14,0.9),(16,1.2),(17,1.4),(18,1.2),(19,0.9),(20,0.8),(22,0.9),(24,0.95),(26,0.9),(28,0.85),(30,0.9),(32,1.0),(33,1.6),(34,2.1),(35,1.0),(36,0.5),(38,0.8),(40,0.6),(42,0.3),(44,0.5),(46,0.4),(48,0.8),(49,1.0),(50,0.3),(51,-0.4),(52,-0.6),(54,-0.8),(79,-0.8)],
    [(0,4.6),(1,4.0),(2,2.0),(3,-0.8),(4,-0.3),(6,-0.5),(8,-0.3),(10,-0.1),(12,0.1),(14,0.2),(16,0.3),(18,0.2),(20,0.3),(22,0.25),(24,0.3),(26,0.4),(28,0.35),(30,0.4),(32,0.5),(34,0.6),(35,3.0),(36,3.8),(37,2.5),(38,0.4),(40,-0.5),(41,-0.3),(42,-0.6),(44,-0.5),(46,-0.7),(48,-0.6),(50,-0.7),(52,-0.6),(54,-0.8),(56,-1.0),(58,-1.1),(60,-1.2),(62,-1.2),(63,-1.3),(79,-1.3)],
    [(0,4.6),(1,0.7),(2,-0.3),(4,-0.1),(6,0.2),(8,0.4),(10,0.5),(12,0.8),(14,1.3),(15,1.6),(16,1.5),(17,1.1),(18,0.7),(20,0.5),(22,0.4),(24,0.5),(26,0.45),(28,0.5),(30,0.55),(32,0.6),(34,0.5),(35,0.8),(36,4.5),(37,1.0),(38,0.5),(40,0.3),(42,0.1),(44,-0.2),(46,-0.4),(47,-0.45),(79,-0.45)],
    [(0,4.6),(1,0.9),(2,-1.0),(3,-0.6),(5,-0.3),(7,-0.1),(9,0.0),(11,-0.2),(13,-0.4),(15,-0.3),(17,0.0),(19,0.2),(21,0.3),(23,0.35),(25,0.4),(27,0.45),(29,0.5),(31,0.6),(33,0.5),(34,3.0),(35,1.0),(36,0.2),(37,0.6),(38,1.0),(39,4.5),(40,0.5),(41,-0.2),(43,-0.4),(44,-0.5),(46,-0.6),(48,-0.5),(50,-0.7),(52,-0.6),(54,-0.8),(55,-1.0),(79,-1.0)],
    [(0,4.6),(1,0.5),(2,-0.5),(4,-0.2),(6,0.1),(8,0.2),(10,0.4),(12,0.6),(14,0.7),(16,0.6),(18,0.5),(20,0.4),(22,0.5),(24,0.6),(26,0.55),(28,0.6),(30,0.65),(32,0.6),(34,0.7),(36,0.75),(37,4.5),(38,0.8),(40,0.6),(42,0.5),(44,0.3),(46,0.2),(48,0.4),(50,0.2),(52,0.5),(54,0.3),(55,-0.5),(56,-1.1),(79,-1.1)],
    [(0,4.6),(1,0.2),(2,-0.9),(3,-0.7),(5,-0.4),(7,-0.2),(9,0.0),(11,0.2),(13,0.4),(15,0.5),(17,0.6),(19,0.55),(21,0.5),(23,0.45),(25,0.5),(27,0.55),(29,0.5),(31,0.6),(33,0.55),(35,0.6),(37,0.7),(38,0.4),(40,0.0),(42,-0.3),(44,-0.5),(46,-0.6),(48,-0.55),(50,-0.6),(52,-0.5),(54,-0.6),(56,-0.5),(57,0.3),(58,1.5),(59,0.0),(60,-0.5),(61,-0.5),(62,-0.9),(63,-1.25),(79,-1.25)],
    [(0,4.6),(1,1.8),(2,0.3),(3,0.6),(5,0.8),(7,1.0),(9,1.1),(11,1.0),(13,0.9),(15,0.8),(17,0.7),(19,0.6),(21,0.55),(23,0.6),(25,0.65),(27,0.7),(29,0.75),(31,0.8),(33,0.85),(34,4.5),(35,4.5),(36,0.9),(37,0.6),(38,0.2),(40,-0.2),(42,-0.5),(43,-0.8),(79,-0.8)],
    [(0,4.6),(1,4.2),(2,3.0),(3,-1.0),(4,-0.4),(6,0.0),(8,0.3),(10,0.6),(12,0.9),(14,1.5),(15,1.8),(16,1.7),(17,1.1),(18,0.6),(20,0.45),(22,0.4),(24,0.45),(26,0.5),(28,0.45),(30,0.5),(32,0.55),(34,0.6),(35,0.65),(36,4.5),(37,4.5),(38,4.5),(39,0.3),(40,0.0),(42,-0.2),(44,-0.4),(45,-0.9),(79,-0.9)],
    [(0,4.6),(1,0.3),(2,-0.5),(3,-0.3),(5,0.0),(7,0.1),(9,0.0),(11,-0.2),(13,-0.5),(15,-0.6),(17,-0.3),(19,0.0),(21,0.2),(23,0.25),(25,0.2),(27,0.3),(29,0.35),(31,0.4),(33,0.45),(35,0.5),(36,0.2),(37,-0.6),(38,-0.2),(39,0.5),(40,3.5),(41,0.5),(42,0.2),(44,0.0),(46,-0.2),(48,-0.4),(50,-0.6),(52,-0.8),(54,-0.9),(56,-0.95),(79,-0.95)],
]

title_text = "Soft-DTW $k$-means (gamma=10)"
x_ticks = [0, 10, 20, 30, 40, 50, 60, 70, 80]
y_ticks = [-4, -3, -2, -1, 0, 1, 2, 3, 4]

clusters = [cluster1, cluster2, cluster3, cluster4]
barys = [(bary1_x, bary1_y), (bary2_x, bary2_y), (bary3_x, bary3_y), (bary4_x, bary4_y)]

fig = plt.figure(figsize=(10.35, 7.11), dpi=100)
W, H = 1035.0, 711.0
rects = [
    [44 / W, (H - 327) / H, 432 / W, 287 / H],
    [594 / W, (H - 327) / H, 428 / W, 287 / H],
    [44 / W, (H - 685) / H, 432 / W, 287 / H],
    [594 / W, (H - 685) / H, 428 / W, 287 / H],
]

for i in range(4):
    ax = fig.add_axes(rects[i])
    for series in clusters[i]:
        xs, ys = zip(*series)
        ax.plot(xs, ys, "k-", alpha=0.22, lw=1.5)
    bx, by = barys[i]
    ax.plot(bx, by, "r-", lw=1.6, zorder=5)
    ax.set_xlim(0, 80)
    ax.set_ylim(-4, 4)
    ax.set_xticks(x_ticks)
    ax.set_yticks(y_ticks)
    if i == 0:
        ax.set_title(title_text)

fig.savefig("out.png", dpi=100)
